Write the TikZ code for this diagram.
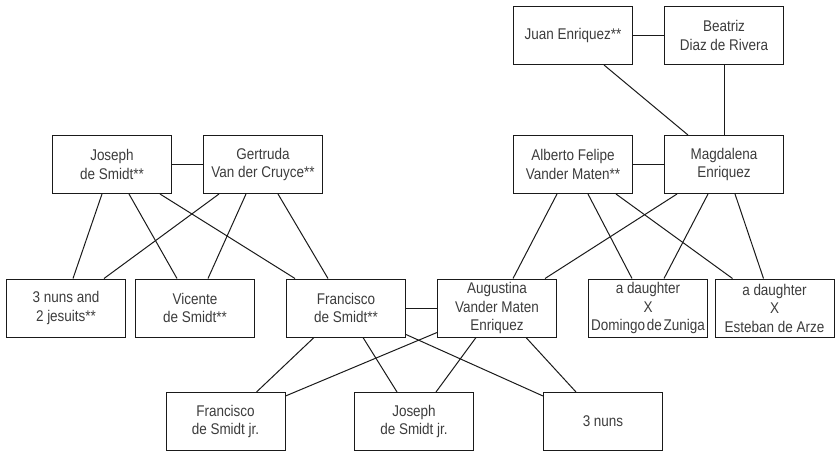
\documentclass[tikz,border=0pt]{standalone}
\usepackage{fontspec}
\setmainfont{Liberation Sans}[FakeStretch=0.87]
\usetikzlibrary{calc}
\definecolor{ink}{HTML}{1A1A1A}
\begin{document}
\begin{tikzpicture}[x=1pt,y=-1pt,
  person/.style={draw=ink, line width=1pt, minimum width=119pt, minimum height=58pt,
    inner sep=0pt, align=center, text=ink!85,
    font=\fontsize{15.5}{18.5}\selectfont},
  link/.style={draw=ink, line width=1pt}]
\useasboundingbox (0,0) rectangle (835,452);

% generation 1
\node[person] (juan) at (573,35.5) {Juan Enriquez**};
\node[person] (beatriz) at (724,35.5) {Beatriz\\Diaz de Rivera};

% generation 2
\node[person] (joseph) at (112,164.5) {Joseph\\de Smidt**};
\node[person] (gertruda) at (263,164.5) {Gertruda\\Van der Cruyce**};
\node[person] (alberto) at (573,164.5) {Alberto Felipe\\Vander Maten**};
\node[person] (magdalena) at (724,164.5) {Magdalena\\Enriquez};

% generation 3
\node[person] (nunsjes) at (66,308) {3 nuns and\\2 jesuits**};
\node[person] (vicente) at (195,308) {Vicente\\de Smidt**};
\node[person] (francisco) at (346,308) {Francisco\\de Smidt**};
\node[person] (augustina) at (497,308) {Augustina\\Vander Maten\\Enriquez};
\node[person] (daughterA) at (648,308) {a daughter\\X\\Domingo\hspace{0.12em}de\hspace{0.12em}Zuniga};
\node[person] (daughterB) at (774.5,308) {a daughter\\X\\Esteban de Arze};

% generation 4
\node[person] (franjr) at (225.5,421.5) {Francisco\\de Smidt jr.};
\node[person] (josjr) at (414,421.5) {Joseph\\de Smidt jr.};
\node[person] (nuns) at (603,421.5) {3 nuns};

% marriages
\draw[link] (juan.east) -- (beatriz.west);
\draw[link] (joseph.east) -- (gertruda.west);
\draw[link] (alberto.east) -- (magdalena.west);
\draw[link] (francisco.east) -- (augustina.west);

% Enriquez descent
\draw[link] ($(juan.south west)+(91,0)$) -- ($(magdalena.north west)+(24,0)$);
\draw[link] (beatriz.south) -- (magdalena.north);

% de Smidt children
\draw[link] ($(joseph.south west)+(50,0)$) -- ($(nunsjes.north west)+(67,0)$);
\draw[link] ($(joseph.south west)+(77,0)$) -- ($(vicente.north west)+(42,0)$);
\draw[link] ($(joseph.south west)+(108,0)$) -- ($(francisco.north west)+(9,0)$);
\draw[link] ($(gertruda.south west)+(16,0)$) -- ($(nunsjes.north west)+(98,0)$);
\draw[link] ($(gertruda.south west)+(43,0)$) -- ($(vicente.north west)+(73,0)$);
\draw[link] ($(gertruda.south west)+(75,0)$) -- ($(francisco.north west)+(42,0)$);

% Vander Maten children
\draw[link] ($(alberto.south west)+(44,0)$) -- ($(augustina.north west)+(76,0)$);
\draw[link] ($(alberto.south west)+(75,0)$) -- ($(daughterA.north west)+(44,0)$);
\draw[link] ($(alberto.south west)+(103,0)$) -- ($(daughterB.north west)+(18,0)$);
\draw[link] ($(magdalena.south west)+(13,0)$) -- ($(augustina.north west)+(108,0)$);
\draw[link] ($(magdalena.south west)+(44,0)$) -- ($(daughterA.north west)+(76,0)$);
\draw[link] ($(magdalena.south west)+(71,0)$) -- ($(daughterB.north west)+(49,0)$);

% children of Francisco and Augustina
\draw[link] ($(francisco.south west)+(28,0)$) -- ($(franjr.north west)+(91,0)$);
\draw[link] ($(francisco.south west)+(77,0)$) -- ($(josjr.north west)+(43,0)$);
\draw[link] ($(francisco.south east)+(0,-3)$) -- ($(nuns.north west)+(0,4)$);
\draw[link] ($(augustina.south west)+(0,-5)$) -- ($(franjr.north east)+(0,4)$);
\draw[link] ($(augustina.south west)+(39,0)$) -- ($(josjr.north west)+(82,0)$);
\draw[link] ($(augustina.south west)+(89,0)$) -- ($(nuns.north west)+(33,0)$);
\end{tikzpicture}
\end{document}
